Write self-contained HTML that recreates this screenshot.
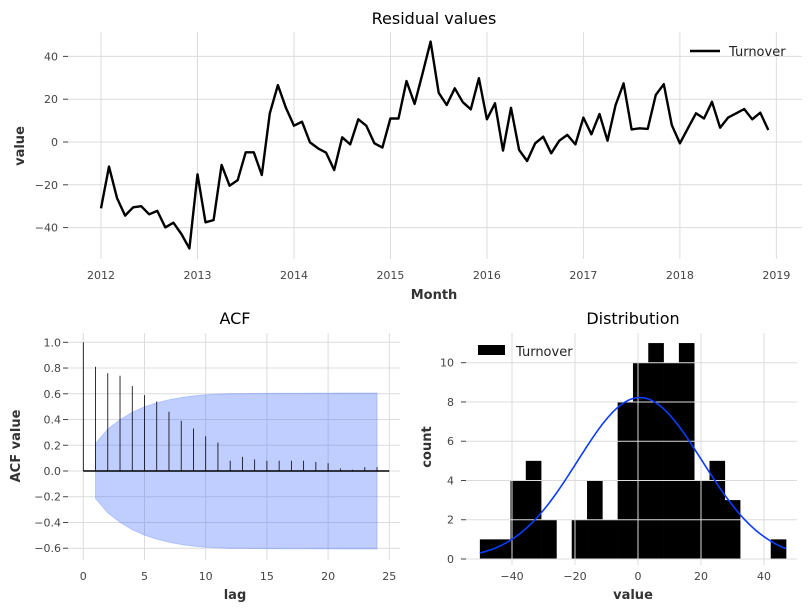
<!DOCTYPE html>
<html><head><meta charset="utf-8"><style>
body{margin:0;background:#fff;font-family:"Liberation Sans","DejaVu Sans",sans-serif}
svg text{font-family:"DejaVu Sans","Liberation Sans",sans-serif}
</style></head><body>
<svg id="c" width="811" height="611" xmlns="http://www.w3.org/2000/svg"></svg>
<script>
const residuals=[-31,-11.5,-26.3,-34.4,-30.5,-30,-33.8,-32.2,-39.9,-37.7,-43,-49.7,-15.1,-37.5,-36.5,-10.7,-20.4,-17.8,-4.8,-4.8,-15.4,13.4,26.6,16,7.6,9.5,-0.2,-3,-5,-13.1,2.2,-1.1,10.6,7.6,-0.6,-2.6,11,11,28.5,17.8,32.1,46.9,23,17.3,25.1,18.6,15.3,29.8,10.6,18.1,-4,16,-3.7,-8.9,-0.6,2.5,-5.3,0.6,3.3,-1.1,11.4,3.6,13.1,0.6,17.3,27.4,5.9,6.4,6.1,22,27,7.9,-0.6,6.4,13.4,11,18.8,6.7,11.4,13.4,15.4,10.6,13.7,5.6];
const yearTicks=[2012,2013,2014,2015,2016,2017,2018,2019];
const valueTicks=[-40,-20,0,20,40];
const acfVals=[1,0.81,0.76,0.74,0.66,0.59,0.54,0.46,0.39,0.33,0.27,0.22,0.08,0.11,0.09,0.08,0.08,0.08,0.08,0.07,0.06,0.02,0.01,0.03,0.03];
const acfYTicks=[-0.6,-0.4,-0.2,0.0,0.2,0.4,0.6,0.8,1.0];
const lagTicks=[0,5,10,15,20,25];
const histCounts=[1,1,4,5,2,0,2,4,2,8,10,11,10,11,4,5,3,0,0,1];
const histMin=-50.2, histMax=47.0;
const normMean=0.6, normStd=19.8;
const countTicks=[0,2,4,6,8,10];
const histXTicks=[-40,-20,0,20,40];

const S=document.getElementById('c');const NS='http://www.w3.org/2000/svg';
function el(t,a,txt){const e=document.createElementNS(NS,t);for(const k in a)e.setAttribute(k,a[k]);if(txt!==undefined)e.textContent=txt;S.appendChild(e);return e;}
const grid='#dcdcdc',tc='#444',fs=11;

// ---------- top chart ----------
const tx=m=>101+m*8.04, ty=v=>142-v*2.14;
for(const y of yearTicks){const x=tx((y-2012)*12);
 const g=el('line',{x1:x,x2:x,y1:32,y2:259,stroke:grid,'stroke-width':1});
 
 const t=el('text',{x:x,y:279,'font-size':fs,fill:tc,'text-anchor':'middle'},y);
 }
for(const v of valueTicks){const y=ty(v);
 const g=el('line',{x1:68,x2:802,y1:y,y2:y,stroke:grid,'stroke-width':1});
 
 const tk=el('line',{x1:63,x2:68,y1:y,y2:y,stroke:tc});
 
 const t=el('text',{x:58,y:y+4,'font-size':fs,fill:tc,'text-anchor':'end'},(v<0?'\u2212'+(-v):v));
 }
let d=residuals.map((v,i)=>(i?'L':'M')+tx(i).toFixed(1)+','+ty(v).toFixed(1)).join('');
let p=el('path',{d:d,fill:'none',stroke:'#000','stroke-width':2.4,'stroke-linejoin':'round'});

let t=el('text',{x:434,y:24,'font-size':16,fill:'#000','text-anchor':'middle'},'Residual values');

t=el('text',{x:434,y:299,'font-size':13,'font-weight':'bold',fill:'#333','text-anchor':'middle'},'Month');

t=el('text',{x:0,y:0,'font-size':13,'font-weight':'bold',fill:'#333','text-anchor':'middle',transform:'translate(24,146) rotate(-90)'},'value');

let l=el('line',{x1:690,x2:720,y1:51,y2:51,stroke:'#000','stroke-width':2.4});

t=el('text',{x:729,y:56,'font-size':13,fill:'#222'},'Turnover');


// ---------- ACF ----------
const ax=k=>83.3+k*12.24, ay=v=>471-v*128.7;
for(const k of lagTicks){const x=ax(k);
 const g=el('line',{x1:x,x2:x,y1:333,y2:560,stroke:grid});
 
 const tt=el('text',{x:x,y:580,'font-size':fs,fill:tc,'text-anchor':'middle'},k);
 }
for(const v of acfYTicks){const y=ay(v);
 const g=el('line',{x1:68,x2:400,y1:y,y2:y,stroke:grid});
 
 const tt=el('text',{x:61,y:y+4,'font-size':fs,fill:tc,'text-anchor':'end'},(v<0?'\u2212':'')+Math.abs(v).toFixed(1));
 
 const tk=el('line',{x1:63,x2:68,y1:y,y2:y,stroke:tc});
 }
const n=residuals.length;let band=[],cum=0;
for(let k=1;k<acfVals.length;k++){band.push(1.96*Math.sqrt((1+2*cum)/n));cum+=acfVals[k]*acfVals[k];}
let up=band.map((b,i)=>ax(i+1).toFixed(1)+','+ay(b).toFixed(1));
let dn=band.map((b,i)=>ax(i+1).toFixed(1)+','+ay(-b).toFixed(1)).reverse();
let poly=el('polygon',{points:up.concat(dn).join(' '),fill:'#3a66ff','fill-opacity':0.32,stroke:'#3a66ff','stroke-opacity':0.25});

acfVals.forEach((v,k)=>{const s=el('line',{x1:ax(k),x2:ax(k),y1:ay(0),y2:ay(v),stroke:'#000','stroke-width':0.8});
 });
l=el('line',{x1:ax(0),x2:ax(25),y1:ay(0),y2:ay(0),stroke:'#000','stroke-width':1.6});

t=el('text',{x:235,y:324,'font-size':16,fill:'#000','text-anchor':'middle'},'ACF');

t=el('text',{x:235,y:599,'font-size':13,'font-weight':'bold',fill:'#333','text-anchor':'middle'},'lag');

t=el('text',{x:0,y:0,'font-size':13,'font-weight':'bold',fill:'#333','text-anchor':'middle',transform:'translate(20,446) rotate(-90)'},'ACF value');


// ---------- histogram ----------
const hx=v=>638+v*3.15, hy=c=>559-c*19.63;
const bw=(histMax-histMin)/histCounts.length;
histCounts.forEach((c,i)=>{if(!c)return;const x0=hx(histMin+i*bw),x1=hx(histMin+(i+1)*bw);
 const r=el('rect',{x:x0,y:hy(c),width:x1-x0+0.3,height:hy(0)-hy(c),fill:'#000'});
 });
for(const v of histXTicks){const x=hx(v);
 const g=el('line',{x1:x,x2:x,y1:333,y2:565,stroke:grid});
 
 const tt=el('text',{x:x,y:580,'font-size':fs,fill:tc,'text-anchor':'middle'},(v<0?'\u2212'+(-v):v));
 }
for(const c of countTicks){const y=hy(c);
 const g=el('line',{x1:466,x2:797,y1:y,y2:y,stroke:grid});
 
 const tt=el('text',{x:454,y:y+4,'font-size':fs,fill:tc,'text-anchor':'end'},c);
 
 const tk=el('line',{x1:461,x2:466,y1:y,y2:y,stroke:tc});
 }
let pts=[];const amp=n*bw/(normStd*Math.sqrt(2*Math.PI));
for(let i=0;i<=120;i++){const v=histMin+(histMax-histMin)*i/120;pts.push((i?'L':'M')+hx(v).toFixed(1)+','+hy(amp*Math.exp(-0.5*((v-normMean)/normStd)**2)).toFixed(1));}
p=el('path',{d:pts.join(''),fill:'none',stroke:'#0a3cff','stroke-width':1.6});

t=el('text',{x:633,y:324,'font-size':16,fill:'#000','text-anchor':'middle'},'Distribution');

t=el('text',{x:633,y:599,'font-size':13,'font-weight':'bold',fill:'#333','text-anchor':'middle'},'value');

t=el('text',{x:0,y:0,'font-size':13,'font-weight':'bold',fill:'#333','text-anchor':'middle',transform:'translate(431,447) rotate(-90)'},'count');

let r=el('rect',{x:478,y:345,width:27,height:10,fill:'#000'});

t=el('text',{x:516,y:356,'font-size':13,fill:'#222'},'Turnover');

</script>
</body></html>
